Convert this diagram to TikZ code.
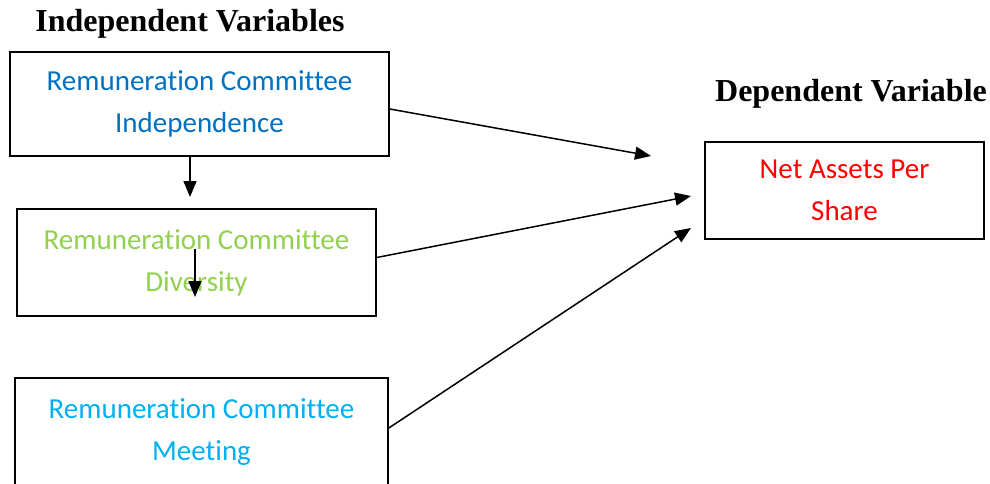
\documentclass[tikz,border=0pt]{standalone}
\usepackage{fontspec}
\setmainfont{Liberation Serif}
\newfontfamily\boxfont[Ligatures=NoCommon]{Carlito}
\usepackage{tikz}
\usetikzlibrary{arrows.meta}
\definecolor{indepblue}{RGB}{0,112,192}
\definecolor{diversgreen}{RGB}{146,208,80}
\definecolor{meetblue}{RGB}{0,176,240}
\definecolor{netred}{RGB}{255,0,0}

\begin{document}
\begin{tikzpicture}[x=1pt,y=1pt,yscale=-1,
	varbox/.style={draw, line width=1.6pt, align=center, inner sep=0pt, font=\boxfont\fontsize{29}{42}\selectfont},
	heading/.style={anchor=base, font=\bfseries\fontsize{32}{38}\selectfont},
	link/.style={line width=1.5pt, -{Triangle[length=16pt,width=13pt]}}]
		%set diagram to 990 x 484
		\useasboundingbox (0,0) rectangle (990,484);
		\clip (0,0) rectangle (990,484);
		
		% Text Node
		\node (indhead) [heading] at (190,32) {Independent Variables};
		% Text Node
		\node (dephead) [heading] at (851,102) {Dependent Variable};
		
		%Shape: Rectangle
		\node (indep) [varbox, text=indepblue, minimum width=379pt, minimum height=104pt] at (199.5,104) {Remuneration Committee\\Independence};
		%Shape: Rectangle
		\node (divers) [varbox, text=diversgreen, minimum width=359pt, minimum height=107pt] at (196.5,262.5) {Remuneration Committee\\Diversity};
		%Shape: Rectangle
		\node (meet) [varbox, text=meetblue, minimum width=373pt, minimum height=108pt] at (201.5,432) {Remuneration Committee\\Meeting};
		%Shape: Rectangle
		\node (nav) [varbox, text=netred, minimum width=279pt, minimum height=97pt] at (844.5,190.5) {Net Assets Per\\Share};
		
		\coordinate (downtip) at (190,197);
		\coordinate (strayfrom) at (195,249);
		\coordinate (strayto) at (195,297);
		\coordinate (tipa) at (651,156);
		\coordinate (tipb) at (691,196);
		\coordinate (tipc) at (691,228);
		
		%Straight Lines
		\draw [link] (indep.south -| downtip) -- (downtip);
		\draw [link] (strayfrom) -- (strayto);
		%Straight Lines
		\draw [link] ([yshift=5pt]indep.east) -- (tipa);
		\draw [link] ([yshift=-5pt]divers.east) -- (tipb);
		\draw [link] ([yshift=-4pt]meet.east) -- (tipc);
	\end{tikzpicture}
\end{document}
